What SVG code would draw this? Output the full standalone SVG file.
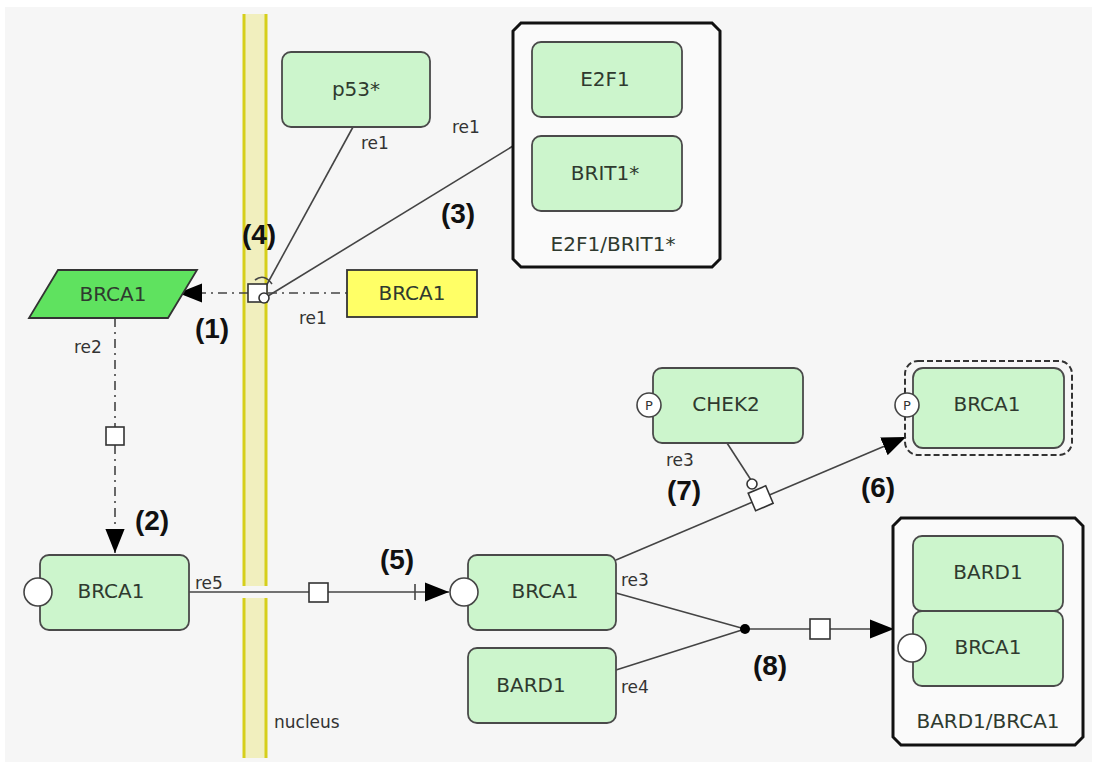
<svg xmlns="http://www.w3.org/2000/svg" width="1097" height="767" viewBox="0 0 1097 767">
<style>
.bg{fill:#f6f6f6}
.sp{fill:#ccf5cc;stroke:#4a4a4a;stroke-width:1.8}
.cx{fill:#fafafa;stroke:#111;stroke-width:3}
.t{font-family:"DejaVu Sans",sans-serif;font-size:20px;fill:#2f3a2f;text-anchor:middle;dominant-baseline:central}
.lb{font-family:"DejaVu Sans",sans-serif;font-size:17px;fill:#333}
.num{font-family:"Liberation Sans",Arial,sans-serif;font-size:28px;font-weight:bold;fill:#111;text-anchor:middle;dominant-baseline:central}
.ln{fill:none;stroke:#444;stroke-width:1.6}
.dd{fill:none;stroke:#444;stroke-width:1.6;stroke-dasharray:9,5,2,5}
.pn{fill:#fff;stroke:#333;stroke-width:1.6}
.st{fill:#fff;stroke:#444;stroke-width:1.6}
.pl{font-family:"DejaVu Sans",sans-serif;font-size:13px;fill:#333;text-anchor:middle;dominant-baseline:central}
</style>
<defs>
<marker id="ah" viewBox="0 0 10 10" refX="10" refY="5" markerWidth="24" markerHeight="24" markerUnits="userSpaceOnUse" orient="auto">
<path d="M0,1 L10,5 L0,9 z" fill="#000"/>
</marker>
</defs>
<rect class="bg" x="5" y="7" width="1087" height="755"/>

<g id="nucleus">
<rect x="243" y="14" width="24" height="744" fill="#f1efbe"/>
<line x1="244" y1="14" x2="244" y2="758" stroke="#d6cf1a" stroke-width="3"/>
<line x1="266" y1="14" x2="266" y2="758" stroke="#d6cf1a" stroke-width="3"/>
<rect x="241" y="586" width="28" height="12" fill="#f6f6f6"/>
<text class="lb" x="274" y="728" font-size="18">nucleus</text>
</g>

<g id="connectors">
<line class="ln" x1="353" y1="127" x2="265" y2="288"/>
<line class="ln" x1="513" y1="146" x2="268" y2="296"/>
<path class="ln" d="M255,280 Q264,273 272,284"/>
<line class="dd" x1="248" y1="293" x2="178" y2="293" marker-end="url(#ah)"/>
<line class="dd" x1="268" y1="293" x2="347" y2="293"/>
<rect class="pn" x="248" y="284" width="19" height="18"/>
<circle class="pn" cx="264" cy="298" r="5"/>
<line class="dd" x1="115" y1="318" x2="115" y2="427"/>
<line class="dd" x1="115" y1="445" x2="115" y2="553" marker-end="url(#ah)"/>
<rect class="pn" x="106" y="427" width="18" height="18"/>
<line class="ln" x1="189" y1="592" x2="449" y2="592" marker-end="url(#ah)"/>
<line class="ln" x1="415" y1="584" x2="415" y2="600"/>
<rect class="pn" x="309" y="583" width="19" height="19"/>
<line class="ln" x1="616" y1="560" x2="906" y2="437" marker-end="url(#ah)"/>
<line class="ln" x1="727" y1="443" x2="751" y2="480"/>
<circle class="pn" cx="752" cy="484" r="5"/>
<rect class="pn" x="751" y="489" width="19" height="19" transform="rotate(-23 760 498)"/>
<line class="ln" x1="616" y1="593" x2="745" y2="629"/>
<line class="ln" x1="616" y1="670" x2="745" y2="629"/>
<line class="ln" x1="745" y1="629" x2="894" y2="629" marker-end="url(#ah)"/>
<circle cx="745" cy="629" r="5" fill="#000"/>
<rect class="pn" x="810" y="619" width="20" height="20"/>
</g>

<g id="p53">
<rect class="sp" x="282" y="52" width="148" height="75" rx="9"/>
<text class="t" x="356" y="89">p53*</text>
</g>

<g id="e2f1_brit1">
<path class="cx" d="M521,23 H712 L720,31 V259 L712,267 H521 L513,259 V31 Z"/>
<rect class="sp" x="532" y="42" width="150" height="75" rx="9"/>
<text class="t" x="605" y="79">E2F1</text>
<rect class="sp" x="532" y="136" width="150" height="75" rx="9"/>
<text class="t" x="605" y="173">BRIT1*</text>
<text class="t" x="613" y="244">E2F1/BRIT1*</text>
</g>

<g id="brca1_cyto">
<path d="M58,270 H197 L168,318 H29 Z" fill="#5fe25f" stroke="#333" stroke-width="1.8"/>
<text class="t" x="113" y="294">BRCA1</text>
</g>

<g id="brca1_yellow">
<rect x="347" y="270" width="130" height="47" fill="#ffff66" stroke="#333" stroke-width="1.8"/>
<text class="t" x="412" y="293">BRCA1</text>
</g>

<g id="brca1_left">
<rect class="sp" x="40" y="555" width="149" height="75" rx="9"/>
<circle class="st" cx="38" cy="592" r="14"/>
<text class="t" x="111" y="591">BRCA1</text>
</g>

<g id="brca1_mid">
<rect class="sp" x="468" y="555" width="148" height="75" rx="9"/>
<circle class="st" cx="464" cy="592" r="14"/>
<text class="t" x="545" y="591">BRCA1</text>
</g>

<g id="bard1">
<rect class="sp" x="468" y="648" width="148" height="75" rx="9"/>
<text class="t" x="531" y="685">BARD1</text>
</g>

<g id="chek2">
<rect class="sp" x="653" y="368" width="150" height="75" rx="9"/>
<circle class="st" cx="649" cy="405" r="12"/>
<text class="pl" x="649" y="405">P</text>
<text class="t" x="726" y="404">CHEK2</text>
</g>

<g id="brca1_p">
<rect x="905" y="361" width="167" height="94" rx="13" fill="none" stroke="#333" stroke-width="2" stroke-dasharray="6,3"/>
<rect class="sp" x="913" y="368" width="151" height="80" rx="10"/>
<circle class="st" cx="907" cy="405" r="12"/>
<text class="pl" x="907" y="405">P</text>
<text class="t" x="987" y="404">BRCA1</text>
</g>

<g id="bard1_brca1">
<path class="cx" d="M901,518 H1075 L1083,526 V737 L1075,745 H901 L893,737 V526 Z"/>
<rect class="sp" x="913" y="536" width="150" height="75" rx="9"/>
<text class="t" x="988" y="572">BARD1</text>
<rect class="sp" x="913" y="611" width="150" height="75" rx="9"/>
<circle class="st" cx="912" cy="648" r="14"/>
<text class="t" x="988" y="647">BRCA1</text>
<text class="t" x="988" y="721">BARD1/BRCA1</text>
</g>

<g id="labels">
<text class="lb" x="361" y="149">re1</text>
<text class="lb" x="452" y="133">re1</text>
<text class="lb" x="299" y="324">re1</text>
<text class="lb" x="74" y="353">re2</text>
<text class="lb" x="195" y="589">re5</text>
<text class="lb" x="666" y="466">re3</text>
<text class="lb" x="621" y="586">re3</text>
<text class="lb" x="621" y="693">re4</text>
<text class="num" x="212" y="328">(1)</text>
<text class="num" x="152" y="520">(2)</text>
<text class="num" x="458" y="213">(3)</text>
<text class="num" x="259" y="234">(4)</text>
<text class="num" x="397" y="559">(5)</text>
<text class="num" x="878" y="487">(6)</text>
<text class="num" x="684" y="490">(7)</text>
<text class="num" x="770" y="665">(8)</text>
</g>
</svg>
